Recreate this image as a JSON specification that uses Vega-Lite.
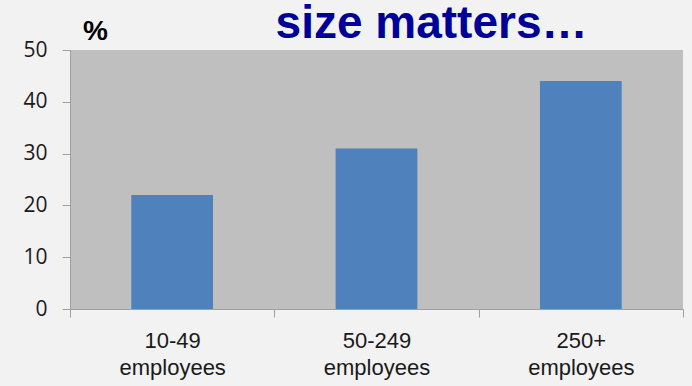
{
  "$schema": "https://vega.github.io/schema/vega-lite/v6.json",
  "width": 613,
  "height": 259,
  "autosize": "none",
  "padding": {"left": 70, "top": 50, "right": 9, "bottom": 77},
  "background": "#F2F2F2",
  "title": {
    "text": "size matters…",
    "anchor": "middle",
    "frame": "group",
    "dx": 55,
    "dy": 67,
    "offset": 0,
    "baseline": "alphabetic",
    "font": "Liberation Sans",
    "fontSize": 46,
    "fontWeight": "bold",
    "color": "#000099"
  },
  "data": {
    "values": [
      {"group": "10-49 employees", "pct": 22},
      {"group": "50-249 employees", "pct": 31},
      {"group": "250+ employees", "pct": 44}
    ]
  },
  "mark": {"type": "bar", "color": "#4F81BD", "width": {"band": 0.4}},
  "encoding": {
    "x": {
      "field": "group",
      "type": "nominal",
      "sort": null,
      "scale": {"paddingInner": 0, "paddingOuter": 0},
      "axis": {
        "title": null,
        "labelAngle": 0,
        "labelExpr": "split(datum.label, ' ')",
        "labelFont": "Liberation Sans",
        "labelFontSize": 22,
        "labelColor": "#1A1A1A",
        "labelLineHeight": 27,
        "labelPadding": 13,
        "tickBand": "extent",
        "tickSize": 8,
        "tickColor": "#A0A0A0",
        "domainColor": "#A0A0A0",
        "grid": false
      }
    },
    "y": {
      "field": "pct",
      "type": "quantitative",
      "scale": {"domain": [0, 50]},
      "axis": {
        "title": "%",
        "titleAngle": 0,
        "titleFont": "Liberation Sans",
        "titleFontSize": 28,
        "titleFontWeight": "bold",
        "titleColor": "#000000",
        "titleX": 25,
        "titleY": -11,
        "titleAlign": "center",
        "titleBaseline": "alphabetic",
        "values": [0, 10, 20, 30, 40, 50],
        "grid": false,
        "labelFont": "Open Sans",
        "labelFontSize": 21,
        "labelColor": "#1A1A1A",
        "labelPadding": 15,
        "tickSize": 8,
        "tickColor": "#A0A0A0",
        "domainColor": "#A0A0A0"
      }
    }
  },
  "config": {"view": {"fill": "#BFBFBF", "stroke": null}}
}
